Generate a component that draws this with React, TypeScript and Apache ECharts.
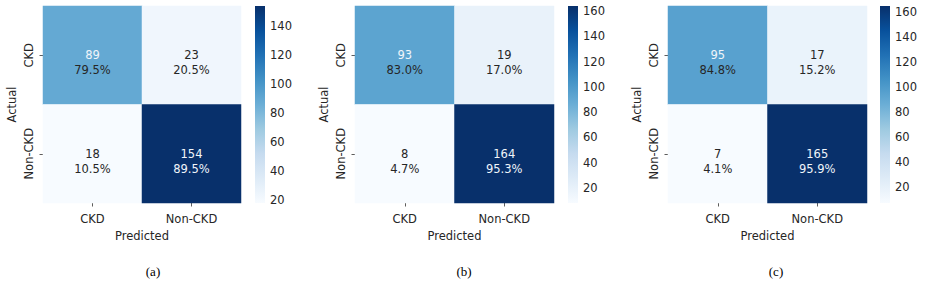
import React, { useEffect, useRef } from "react";
import * as echarts from "echarts";

const categories = ["CKD", "Non-CKD"];
// rows = actual, columns = predicted
const countsA = [
  [89, 23],
  [18, 154],
];
const countsB = [
  [93, 19],
  [8, 164],
];
const countsC = [
  [95, 17],
  [7, 165],
];
const colorbarTicksA = [20, 40, 60, 80, 100, 120, 140];
const colorbarTicksB = [20, 40, 60, 80, 100, 120, 140, 160];
const colorbarTicksC = [20, 40, 60, 80, 100, 120, 140, 160];
const panelLabels = ["(a)", "(b)", "(c)"];

const BLUES = [
  "#f7fbff",
  "#deebf7",
  "#c6dbef",
  "#9ecae1",
  "#6baed6",
  "#4292c6",
  "#2171b5",
  "#08519c",
  "#08306b",
];

const FONT = "DejaVu Sans";
const TEXT = "#262626";
const FS = 11.5;

const layouts = [
  { left: 43, width: 198, cbLeft: 255, labelX: 153 },
  { left: 355, width: 199, cbLeft: 568, labelX: 464 },
  { left: 668, width: 199, cbLeft: 880, labelX: 776 },
];
const TOP = 6;
const HEIGHT = 197;
const CB_WIDTH = 10;

function buildOption() {
  const panels = [
    { counts: countsA, ticks: colorbarTicksA },
    { counts: countsB, ticks: colorbarTicksB },
    { counts: countsC, ticks: colorbarTicksC },
  ];
  const grid: any[] = [];
  const xAxis: any[] = [];
  const yAxis: any[] = [];
  const series: any[] = [];
  const visualMap: any[] = [];
  const graphic: any[] = [];

  panels.forEach((p, i) => {
    const L = layouts[i];
    const flat = p.counts.flat();
    const vmin = Math.min(...flat);
    const vmax = Math.max(...flat);
    const hg = 2 * i;
    const cg = 2 * i + 1;
    grid.push({ left: L.left, top: TOP, width: L.width, height: HEIGHT });
    grid.push({ left: L.cbLeft, top: TOP, width: CB_WIDTH, height: HEIGHT });

    xAxis.push({
      type: "category",
      gridIndex: hg,
      data: categories,
      axisLine: { show: false },
      axisTick: { show: true, alignWithLabel: true, length: 3.5, lineStyle: { color: "#333", width: 0.8 } },
      axisLabel: { fontSize: FS, color: TEXT, fontFamily: FONT, margin: 10 },
      splitLine: { show: false },
      name: "Predicted",
      nameLocation: "middle",
      nameGap: 25,
      nameTextStyle: { fontSize: FS, color: TEXT, fontFamily: FONT },
    });
    yAxis.push({
      type: "category",
      gridIndex: hg,
      data: categories,
      inverse: true,
      axisLine: { show: false },
      axisTick: { show: true, alignWithLabel: true, length: 3.5, lineStyle: { color: "#333", width: 0.8 } },
      axisLabel: { fontSize: FS, color: TEXT, fontFamily: FONT, rotate: 90, margin: 8 },
      splitLine: { show: false },
      name: "Actual",
      nameLocation: "middle",
      nameRotate: 90,
      nameGap: 25,
      nameTextStyle: { fontSize: FS, color: TEXT, fontFamily: FONT },
    });
    xAxis.push({ type: "value", gridIndex: cg, min: 0, max: 1, show: false });
    yAxis.push({
      type: "value",
      gridIndex: cg,
      min: vmin,
      max: vmax,
      position: "right",
      axisLine: { show: false },
      splitLine: { show: false },
      axisTick: { show: true, length: 3, lineStyle: { color: "#333", width: 0.8 }, customValues: p.ticks },
      axisLabel: { fontSize: FS, color: TEXT, fontFamily: FONT, margin: 5, customValues: p.ticks },
    });

    const data: any[] = [];
    p.counts.forEach((row, r) => {
      row.forEach((v, c) => {
        data.push([c, r, v]);
      });
    });
    const counts = p.counts;
    const heatIndex = series.length;
    series.push({
      type: "heatmap",
      xAxisIndex: hg,
      yAxisIndex: hg,
      data,
      emphasis: { disabled: true },
      itemStyle: { borderWidth: 0 },
      label: {
        show: true,
        offset: [0, 7.5],
        formatter: (params: any) => {
          const [, r, v] = params.data;
          const total = counts[r].reduce((a: number, b: number) => a + b, 0);
          const pct = ((v / total) * 100).toFixed(1) + "%";
          const t = (v - vmin) / (vmax - vmin);
          const cStyle = t > 0.5 ? "cw" : "cd";
          const pStyle = t > 0.8 ? "pw" : "pd";
          return `{${cStyle}|${v}}\n{${pStyle}|${pct}}`;
        },
        rich: {
          cw: { color: "#f0f5fa", fontSize: FS, fontFamily: FONT, lineHeight: 15 },
          cd: { color: TEXT, fontSize: FS, fontFamily: FONT, lineHeight: 15 },
          pw: { color: "#f0f5fa", fontSize: FS, fontFamily: FONT, lineHeight: 15 },
          pd: { color: TEXT, fontSize: FS, fontFamily: FONT, lineHeight: 15 },
        },
      },
    });
    visualMap.push({
      type: "continuous",
      show: false,
      seriesIndex: heatIndex,
      min: vmin,
      max: vmax,
      inRange: { color: BLUES },
    });
    series.push({
      type: "custom",
      xAxisIndex: cg,
      yAxisIndex: cg,
      data: [[0, vmin, vmax]],
      silent: true,
      renderItem: (params: any, api: any) => {
        const p0 = api.coord([0, api.value(1)]);
        const p1 = api.coord([1, api.value(2)]);
        const stops = BLUES.map((c, k) => ({ offset: 1 - k / (BLUES.length - 1), color: c })).reverse();
        return {
          type: "rect",
          shape: { x: p0[0], y: p1[1], width: p1[0] - p0[0], height: p0[1] - p1[1] },
          style: { fill: new echarts.graphic.LinearGradient(0, 0, 0, 1, stops) },
        };
      },
    });
    graphic.push({
      type: "text",
      x: L.labelX,
      y: 271,
      style: {
        text: panelLabels[i],
        fill: "#000",
        font: "13px 'Liberation Serif'",
        textAlign: "center",
        textVerticalAlign: "middle",
      },
    });
  });

  return {
    animation: false,
    backgroundColor: "#ffffff",
    textStyle: { fontFamily: FONT },
    grid,
    xAxis,
    yAxis,
    visualMap,
    series,
    graphic,
  };
}

export default function App() {
  const ref = useRef<HTMLDivElement>(null);
  useEffect(() => {
    if (!ref.current) return;
    const chart = echarts.init(ref.current, undefined, { renderer: "svg" });
    chart.setOption(buildOption() as any);
    return () => chart.dispose();
  }, []);
  return (
    <div
      ref={ref}
      style={{ position: "fixed", left: 0, top: 0, width: 928, height: 287, background: "#fff" }}
    />
  );
}
